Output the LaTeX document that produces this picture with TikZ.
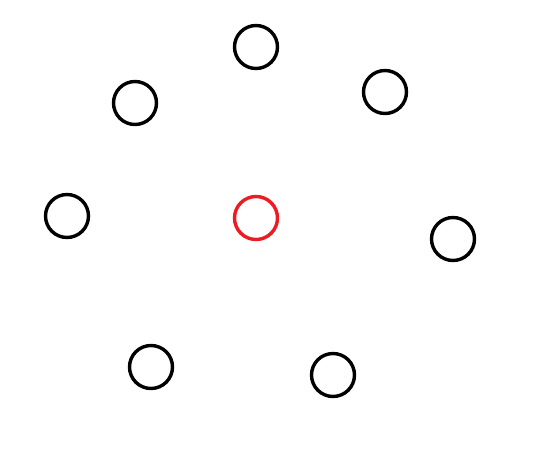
\documentclass[tikz,border=0pt]{standalone}
\definecolor{paintred}{RGB}{237,28,36}
\begin{document}
\begin{tikzpicture}[x=1pt,y=-1pt,
  dot/.style={circle,draw=black,line width=3.4pt,minimum size=43pt,inner sep=0pt},
  reddot/.style={dot,draw=paintred}]
\useasboundingbox[fill=white] (0,0) rectangle (560,469);
\node[dot] (n1) at (256,47) {};
\node[dot] (n2) at (135,103) {};
\node[dot] (n3) at (385,92) {};
\node[dot] (n4) at (67,216) {};
\node[reddot] (c) at (256,218) {};
\node[dot] (n5) at (453,239) {};
\node[dot] (n6) at (151,367) {};
\node[dot] (n7) at (333,375) {};
\end{tikzpicture}
\end{document}
